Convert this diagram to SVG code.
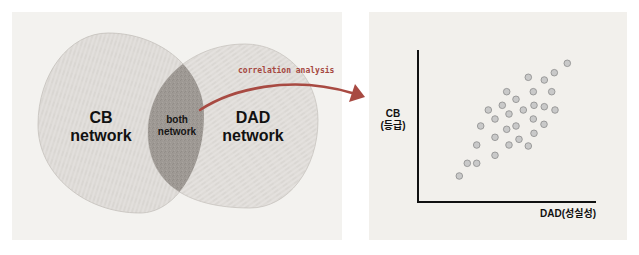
<svg xmlns="http://www.w3.org/2000/svg" width="639" height="255" viewBox="0 0 639 255">
  <style>
    .big { font-family: "Liberation Sans", Arial, sans-serif; font-weight: bold; font-size: 16px; fill: #111; text-anchor: middle; }
    .small { font-family: "Liberation Sans", Arial, sans-serif; font-weight: bold; font-size: 10px; fill: #161514; text-anchor: middle; }
    .ax { font-family: "Liberation Sans", "Noto Sans CJK KR", sans-serif; font-weight: bold; font-size: 10px; fill: #111; }
    .hand { font-family: "DejaVu Sans Mono", "Liberation Mono", monospace; font-weight: bold; font-size: 8px; fill: #a5473f; }
    .dot { fill: #c9c9c9; stroke: #8c8c8c; stroke-width: 0.8; }
    .axis { stroke: #111; stroke-width: 2; fill: none; }
  </style>
  <defs>
    <pattern id="streakA" patternUnits="userSpaceOnUse" width="4" height="11" patternTransform="rotate(18)">
      <rect width="4" height="11" fill="#dcd9d5"/>
      <line x1="1" y1="0" x2="1" y2="11" stroke="#e9e7e4" stroke-width="0.9"/>
      <line x1="3" y1="3" x2="3" y2="8" stroke="#cfcbc7" stroke-width="0.5"/>
    </pattern>
    <pattern id="streakB" patternUnits="userSpaceOnUse" width="4" height="11" patternTransform="rotate(55)">
      <rect width="4" height="11" fill="#dedbd7"/>
      <line x1="1" y1="0" x2="1" y2="11" stroke="#ebe9e6" stroke-width="0.9"/>
      <line x1="3" y1="2" x2="3" y2="7" stroke="#d0ccc8" stroke-width="0.5"/>
    </pattern>
    <pattern id="grain" patternUnits="userSpaceOnUse" width="4" height="4">
      <rect width="4" height="4" fill="#9e9994"/>
      <rect x="0" y="0" width="1" height="1" fill="#938e89"/>
      <rect x="2" y="2" width="1" height="1" fill="#a8a39e"/>
      <rect x="3" y="0" width="1" height="1" fill="#a5a09b"/>
      <rect x="1" y="3" width="1" height="1" fill="#918c87"/>
    </pattern>
    <path id="cbShape" d="M108,33 C161,33 204,70 204,115 C204,169 175,213 140,213 C84,213 38,174 38,125 C38,74 69,33 108,33 Z"/>
    <path id="dadShape" d="M245,44 C285,44 318,78 318,120 C318,169 288,208 250,208 C184,208 148,181 148,132 C148,83 191,44 245,44 Z"/>
    <clipPath id="cbClip"><use href="#cbShape"/></clipPath>
  </defs>

  <rect width="639" height="255" fill="#ffffff"/>
  <rect x="12" y="12" width="330" height="228" fill="#f3f2ef"/>
  <rect x="369" y="12" width="258" height="228" fill="#f2f0ec"/>

  <g id="cb-network">
    <use href="#cbShape" fill="url(#streakA)" stroke="#c4c0bb" stroke-width="0.8"/>
    <text class="big" x="101" y="123">CB</text>
    <text class="big" x="101" y="141">network</text>
  </g>

  <g id="dad-network">
    <use href="#dadShape" fill="url(#streakB)" stroke="#c8c4bf" stroke-width="0.8"/>
    <text class="big" x="253" y="123">DAD</text>
    <text class="big" x="253" y="141">network</text>
  </g>

  <g id="both-network">
    <use href="#dadShape" fill="url(#grain)" clip-path="url(#cbClip)"/>
    <text class="small" x="177" y="123">both</text>
    <text class="small" x="177" y="135">network</text>
  </g>

  <g id="connectors">
    <path d="M200,110 C230,90 290,74 352,93" fill="none" stroke="#a84a42" stroke-width="2.6" stroke-linecap="round"/>
    <polygon points="355,84 365,97 349,102" fill="#a84a42"/>
    <text class="hand" x="238" y="73">correlation analysis</text>
  </g>

  <g id="scatter">
    <path class="axis" d="M418,50 V202 H596"/>
    <text class="ax" x="393" y="117" text-anchor="middle">CB</text>
    <text class="ax" x="393" y="129" text-anchor="middle">(등급)</text>
    <text class="ax" x="596" y="217" text-anchor="end">DAD(성실성)</text>
    <g>
      <circle class="dot" cx="567.3" cy="63.3" r="3.3"/>
      <circle class="dot" cx="554.3" cy="72.7" r="3.3"/>
      <circle class="dot" cx="528.3" cy="77.3" r="3.3"/>
      <circle class="dot" cx="544.3" cy="80" r="3.3"/>
      <circle class="dot" cx="506.7" cy="91.7" r="3.3"/>
      <circle class="dot" cx="533.3" cy="91.7" r="3.3"/>
      <circle class="dot" cx="551.7" cy="91.7" r="3.3"/>
      <circle class="dot" cx="516" cy="99.3" r="3.3"/>
      <circle class="dot" cx="502.3" cy="105.3" r="3.3"/>
      <circle class="dot" cx="534" cy="105.3" r="3.3"/>
      <circle class="dot" cx="544.3" cy="106.7" r="3.3"/>
      <circle class="dot" cx="488.3" cy="110" r="3.3"/>
      <circle class="dot" cx="523.3" cy="110" r="3.3"/>
      <circle class="dot" cx="555" cy="110" r="3.3"/>
      <circle class="dot" cx="509" cy="114" r="3.3"/>
      <circle class="dot" cx="495" cy="119" r="3.3"/>
      <circle class="dot" cx="533.3" cy="119" r="3.3"/>
      <circle class="dot" cx="480.7" cy="126" r="3.3"/>
      <circle class="dot" cx="516" cy="126" r="3.3"/>
      <circle class="dot" cx="506.7" cy="129.3" r="3.3"/>
      <circle class="dot" cx="544" cy="124.3" r="3.3"/>
      <circle class="dot" cx="534" cy="133.3" r="3.3"/>
      <circle class="dot" cx="495" cy="137.3" r="3.3"/>
      <circle class="dot" cx="519" cy="139.3" r="3.3"/>
      <circle class="dot" cx="476.7" cy="145" r="3.3"/>
      <circle class="dot" cx="509" cy="145" r="3.3"/>
      <circle class="dot" cx="528.3" cy="146" r="3.3"/>
      <circle class="dot" cx="495" cy="155.3" r="3.3"/>
      <circle class="dot" cx="467.3" cy="163.3" r="3.3"/>
      <circle class="dot" cx="476.7" cy="163.3" r="3.3"/>
      <circle class="dot" cx="459.3" cy="176" r="3.3"/>
    </g>
  </g>
</svg>
